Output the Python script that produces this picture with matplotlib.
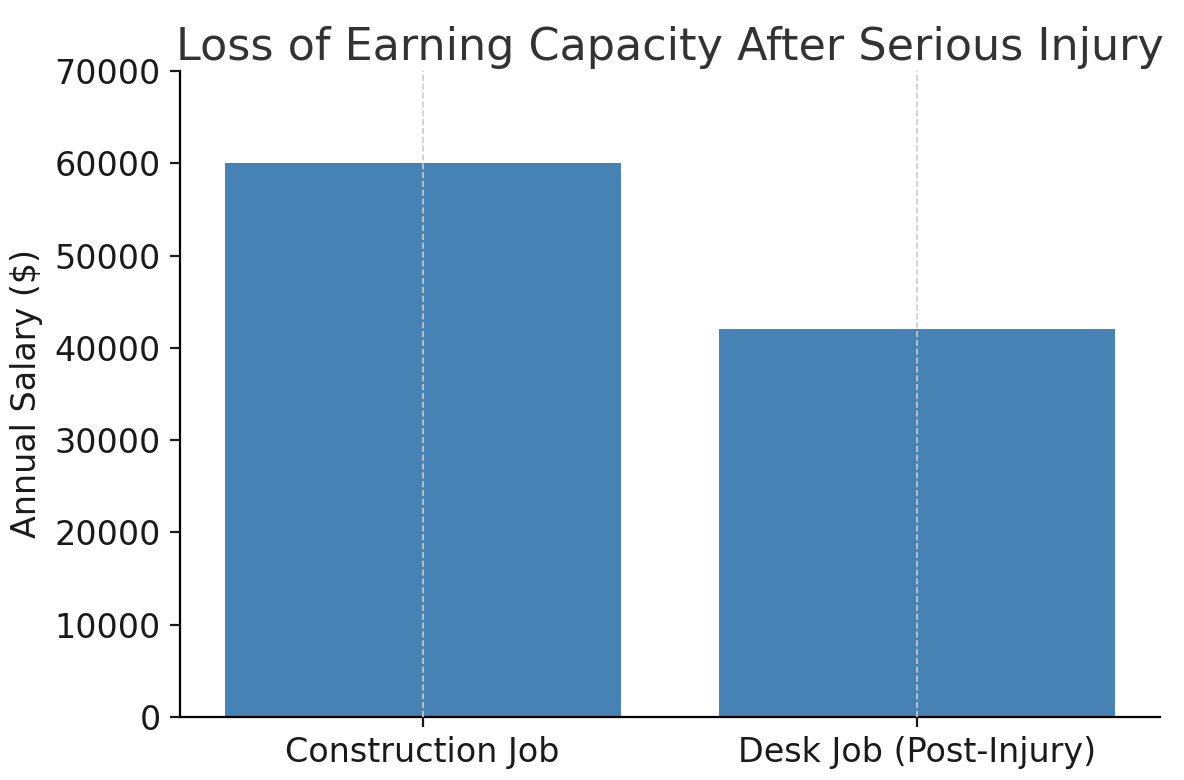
import matplotlib
matplotlib.use("Agg")
import matplotlib.pyplot as plt

categories = ["Construction Job", "Desk Job (Post-Injury)"]
salaries = [60000, 42000]

fig = plt.figure(figsize=(5.92, 3.90), dpi=200)
ax = fig.add_axes([180/1184, 1-717/780, 980/1184, 646/780])
ax.bar(categories, salaries, color="#4682b4", width=0.8)
ax.set_ylim(0, 70000)
ax.set_yticks(range(0, 70001, 10000))
ax.set_axisbelow(False)
ax.grid(axis="x", linestyle="--", color="#cccccc", linewidth=0.6)
ax.spines["top"].set_visible(False)
ax.spines["right"].set_visible(False)
ax.tick_params(labelsize=12, colors="#1a1a1a")
ax.set_ylabel("Annual Salary ($)", fontsize=12, color="#1a1a1a")
ax.set_title("Loss of Earning Capacity After Serious Injury", fontsize=16, color="#333333", pad=4)
fig.savefig("out.png", dpi=200)
